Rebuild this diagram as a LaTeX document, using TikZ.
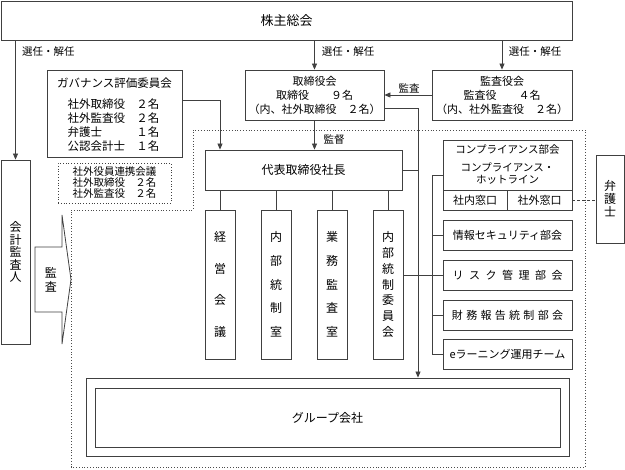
\documentclass[tikz,border=0pt]{standalone}
\usepackage{fontspec}
\setmainfont{Noto Sans CJK JP}
\usetikzlibrary{arrows.meta}
\newcommand\fs[2]{\fontsize{#1}{#2}\selectfont\lineskiplimit=-8pt\relax}
\newcommand\gx{\hspace{5.5pt}}
\newcommand\gy{\hspace{3.3pt}}
\begin{document}
\begin{tikzpicture}[x=1pt,y=-1pt,
  line/.style={draw=black!75, line width=0.8pt},
  box/.style={line, inner sep=0pt, fill=white, align=center},
  arr/.style={line, -{Triangle[length=6pt,width=5pt]}},
  lbl/.style={inner sep=0pt, font=\fs{10.5}{12}},
  txt/.style={inner sep=0pt, align=center},
  rbox/.style={box, minimum width=129pt, minimum height=30pt, font=\fs{11}{13}},
  vbox/.style={box, minimum width=30pt, minimum height=149pt},
  ]
\useasboundingbox (0,0) rectangle (625,470);
% dotted region
\draw[black!70, line width=0.8pt, dotted] (71,210) -- (193,210) -- (193,130) -- (585,130) -- (585,467) -- (71,467) -- cycle;

% top
\node[box, minimum width=571pt, minimum height=39pt, font=\fs{13}{15}] (soukai) at (286.5,20.5) {株主総会};
\node[box, minimum width=29pt, minimum height=184pt, font=\fs{12}{12.5}] (kaikei) at (15.5,252) {会\\計\\監\\査\\人};

% governance
\node[box, minimum width=135pt, minimum height=87pt] (gov) at (114.5,113.5) {};
\node[txt, font=\fs{11.5}{14}] (govtitle) at (114.5,83) {ガバナンス評価委員会};
\node[txt, align=left, font=\fs{11.5}{14}] (govlist) at (113.5,125) {社外取締役　２名\\社外監査役　２名\\弁護士　　　１名\\公認会計士　１名};

\node[line, dotted, inner sep=0pt, minimum width=113pt, minimum height=40pt, align=left, font=\fs{10.5}{11}] (renkei) at (114.5,183) {社外役員連携会議\\社外取締役　２名\\社外監査役　２名};

% boards
\node[box, minimum width=139pt, minimum height=50pt, font=\fs{11}{14}] (tori) at (314.5,95) {取締役会\\取締役　　９名\\（内、社外取締役　２名）};
\node[box, minimum width=140pt, minimum height=50pt, font=\fs{11}{14}] (kansa) at (502,95) {監査役会\\監査役　　４名\\（内、社外監査役　２名）};

\node[lbl] (l1) at (48.5,52) {選任・解任};
\node[lbl] (l2) at (348,52) {選任・解任};
\node[lbl] (l3) at (535,52) {選任・解任};
\node[lbl] (l4) at (409,88) {監査};
\node[lbl] (l5) at (334,140) {監督};

% president
\node[box, minimum width=197pt, minimum height=40pt, font=\fs{12}{14}] (daihyo) at (303.5,170) {代表取締役社長};

\node[vbox, font=\fs{12}{31.7}] (keiei) at (220,284.5) {経\\営\\会\\議};
\node[vbox, font=\fs{12}{23.75}] (naibu) at (276,284.5) {内\\部\\統\\制\\室};
\node[vbox, font=\fs{12}{23.75}] (gyomu) at (332,284.5) {業\\務\\監\\査\\室};
\node[vbox, font=\fs{12}{15.7}] (iinkai) at (388,284.5) {内\\部\\統\\制\\委\\員\\会};

% right column
\node[box, minimum width=129pt, minimum height=70pt] (comp) at (507.5,175) {};
\node[txt, font=\fs{10.5}{12}] (comptitle) at (507.5,150) {コンプライアンス部会};
\node[txt, font=\fs{10.5}{12}] (hotline) at (507.5,174) {コンプライアンス・\\ホットライン};
\node[box, minimum width=64pt, minimum height=20pt, font=\fs{11}{13}] (shanai) at (475,200) {社内窓口};
\node[box, minimum width=65pt, minimum height=20pt, font=\fs{11}{13}] (sotomado) at (539.5,200) {社外窓口};

\node[rbox] (info) at (507.5,235) {情報セキュリティ部会};
\node[rbox] (risk) at (507.5,275) {リ\gx ス\gx ク\gx 管\gx 理\gx 部\gx 会};
\node[rbox] (zaimu) at (507.5,315) {財\gy 務\gy 報\gy 告\gy 統\gy 制\gy 部\gy 会};
\node[rbox] (elearn) at (507.5,354) {eラーニング運用チーム};

\node[box, minimum width=28pt, minimum height=88pt, font=\fs{12}{13}] (bengo) at (610,199) {弁\\護\\士};

% group
\node[box, minimum width=483pt, minimum height=78pt] (groupout) at (327.5,417) {};
\node[box, minimum width=465pt, minimum height=59pt, font=\fs{12}{14}] (groupin) at (327.5,417.5) {グループ会社};

% audit arrow shape
\draw[line, fill=white] (35,247) -- (62,247) -- (62,215) -- (71,279.5) -- (62,344) -- (62,312) -- (35,312) -- cycle;
\node[txt, font=\fs{12}{14}] (kansaarrow) at (51,279.5) {監\\査};

% connectors
\coordinate (bus) at (418,108);
\coordinate (trunk) at (432,175);
\draw[arr] (kaikei.north |- soukai.south) -- (kaikei.north);
\draw[arr] (tori.north |- soukai.south) -- (tori.north);
\draw[arr] (kansa.north |- soukai.south) -- (kansa.north);
\draw[arr] (kansa.west) -- (tori.east);
\draw[arr] (tori.south) -- (tori.south |- daihyo.north);
\draw[arr] ([yshift=13.5pt]gov.east) -| (keiei.north |- daihyo.north);
\draw[arr] ([yshift=-13pt]tori.east) -| (bus |- groupout.north);
\draw[line] (daihyo.east) -- (bus |- daihyo.east);
\foreach \b in {keiei,naibu,gyomu,iinkai}
  \draw[line] (\b.north |- daihyo.south) -- (\b.north);
\draw[line] (iinkai.east |- risk.west) -- (risk.west);
\draw[line] (comp.west) -- (trunk |- comp.west) |- (elearn.west);
\foreach \b in {info,zaimu}
  \draw[line] (\b.west) -- (trunk |- \b.west);
\draw[line, dash pattern=on 3pt off 2pt] (sotomado.east) -- (sotomado.east -| bengo.west);
\end{tikzpicture}
\end{document}
